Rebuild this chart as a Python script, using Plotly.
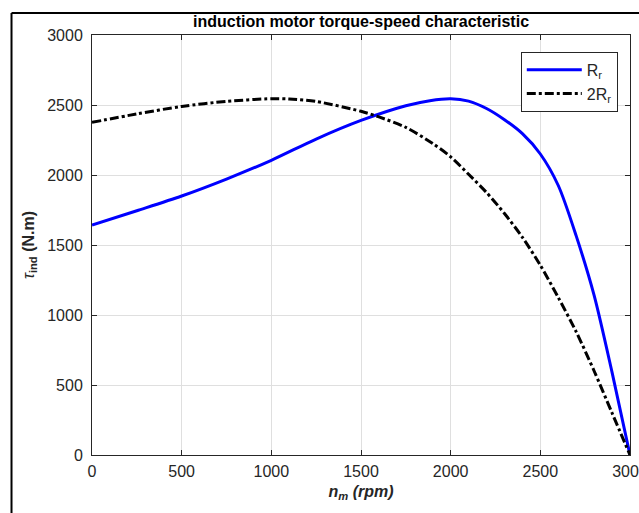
import plotly.graph_objects as go

# Blue curve: R_r
n_Rr = [0, 250, 500, 750, 1000, 1250, 1500, 1750, 1884, 2000, 2100, 2200, 2300, 2400,
        2500, 2600, 2700, 2800, 2900, 3000]
tau_Rr = [1643, 1745, 1850, 1971, 2105, 2257, 2390, 2495, 2531, 2545, 2528, 2475, 2395, 2295,
          2150, 1925, 1565, 1140, 590, 0]

# Black dash-dot curve: 2R_r
n_2Rr = [0, 250, 500, 750, 1000, 1100, 1250, 1500, 1600, 1750, 1900, 2000, 2100, 2200, 2300,
         2400, 2500, 2600, 2700, 2800, 2900, 3000]
tau_2Rr = [2376, 2436, 2490, 2526, 2545, 2543, 2525, 2455, 2415, 2340, 2225, 2130, 2005, 1875,
           1725, 1555, 1355, 1125, 880, 600, 300, 0]

x_ticks = [0, 500, 1000, 1500, 2000, 2500, 3000]
y_ticks = [0, 500, 1000, 1500, 2000, 2500, 3000]

FONT = "Liberation Sans, Arial, sans-serif"
AX = "#262626"

fig = go.Figure()
fig.add_trace(go.Scatter(x=n_Rr, y=tau_Rr, mode="lines", name="R<sub>r</sub>",
                         line=dict(color="#0000ff", width=3, shape="spline", smoothing=0.8)))
fig.add_trace(go.Scatter(x=n_2Rr, y=tau_2Rr, mode="lines", name="2R<sub>r</sub>",
                         line=dict(color="#000000", width=3, dash="dashdot",
                                   shape="spline", smoothing=0.8)))

axis_common = dict(
    showline=True, linecolor=AX, linewidth=1, mirror="ticks",
    ticks="inside", ticklen=5, tickcolor=AX, tickwidth=1,
    showgrid=True, gridcolor="#dfdfdf", gridwidth=1,
    zeroline=False, tickfont=dict(family=FONT, size=16, color=AX),
    ticklabeloverflow="allow",
)

fig.update_xaxes(range=[0, 3000], tickvals=x_ticks, ticktext=[str(v) for v in x_ticks],
                 title=dict(text="<b><i>n</i></b><sub><b><i>m</i></b></sub><b><i> (rpm)</i></b>",
                            font=dict(family=FONT, size=16, color=AX), standoff=6),
                 ticklabelstandoff=2, **axis_common)
fig.update_yaxes(range=[0, 3000], tickvals=y_ticks, ticktext=[str(v) for v in y_ticks],
                 title=dict(text="<i>τ</i><sub><b>ind</b></sub><b> (N.m)</b>",
                            font=dict(family=FONT, size=16, color=AX), standoff=8),
                 ticklabelstandoff=5, **axis_common)

fig.update_layout(
    width=639, height=513,
    margin=dict(l=92, r=9, t=35, b=58, autoexpand=False),
    paper_bgcolor="white", plot_bgcolor="white",
    title=dict(text="<b>induction motor torque-speed characteristic</b>",
               x=(92 + 630) / 2 / 639, xanchor="center", y=1 - 21 / 513, yanchor="middle",
               font=dict(family=FONT, size=16, color="#000000")),
    legend=dict(x=0.797, y=0.96, xanchor="left", yanchor="top",
                bgcolor="white", bordercolor=AX, borderwidth=1,
                font=dict(family=FONT, size=16, color=AX), itemwidth=55,
                tracegroupgap=0),
    showlegend=True,
    shapes=[
        dict(type="line", xref="paper", yref="paper", x0=-0.1496, x1=-0.1496, y0=-0.2, y1=1.0524,
             line=dict(color="black", width=2)),
        dict(type="line", xref="paper", yref="paper", x0=-0.1496, x1=1.1, y0=1.0524, y1=1.0524,
             line=dict(color="black", width=2)),
    ],
)

fig.write_html("out.html", config={"displayModeBar": False},
               post_script="document.body.style.margin='0';")
